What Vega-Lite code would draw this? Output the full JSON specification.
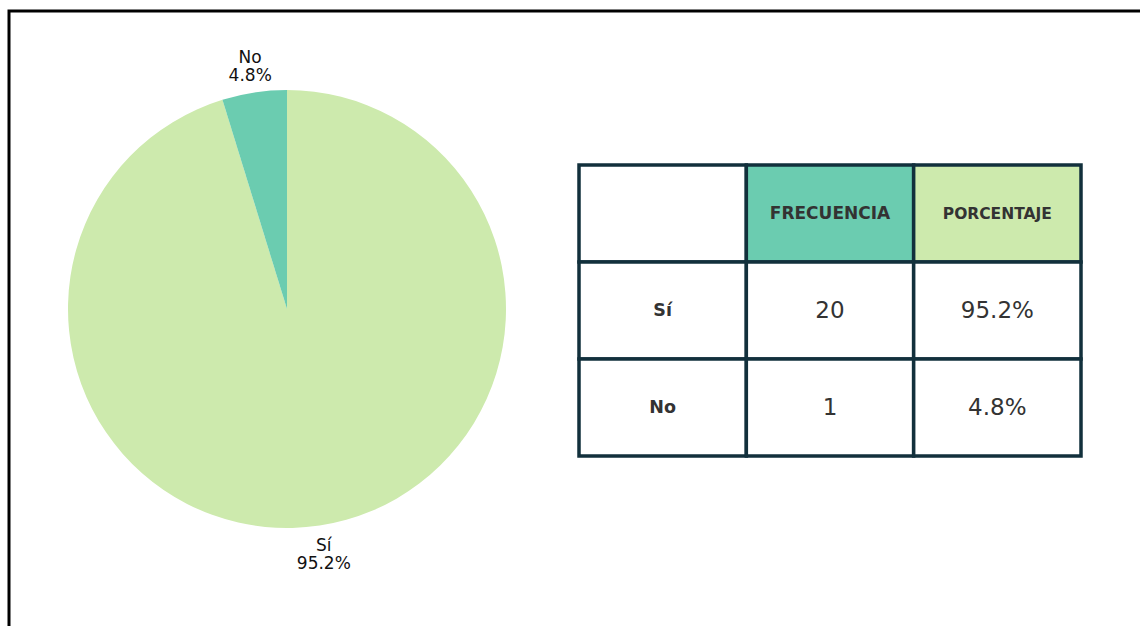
{
  "$schema": "https://vega.github.io/schema/vega-lite/v6.json",
  "width": 1131,
  "height": 615,
  "autosize": {"type": "none"},
  "padding": {"left": 9, "top": 11, "right": 0, "bottom": 0},
  "background": "white",
  "config": {
    "view": {"stroke": "black", "strokeWidth": 3, "strokeDash": [1131, 1746, 615]},
    "font": "DejaVu Sans"
  },
  "datasets": {
    "respuestas": [
      {"respuesta": "Sí", "frecuencia": 20, "porcentaje": "95.2%"},
      {"respuesta": "No", "frecuencia": 1, "porcentaje": "4.8%"}
    ],
    "tabla": [
      {"fila": "encabezado", "columna": "respuesta", "texto": ""},
      {"fila": "encabezado", "columna": "frecuencia", "texto": "FRECUENCIA"},
      {"fila": "encabezado", "columna": "porcentaje", "texto": "PORCENTAJE"},
      {"fila": "Sí", "columna": "respuesta", "texto": "Sí"},
      {"fila": "Sí", "columna": "frecuencia", "texto": "20"},
      {"fila": "Sí", "columna": "porcentaje", "texto": "95.2%"},
      {"fila": "No", "columna": "respuesta", "texto": "No"},
      {"fila": "No", "columna": "frecuencia", "texto": "1"},
      {"fila": "No", "columna": "porcentaje", "texto": "4.8%"}
    ]
  },
  "layer": [
    {
      "data": {"name": "respuestas"},
      "encoding": {
        "x": {"datum": "Encuesta", "type": "nominal", "scale": {"range": [0, 556]}, "axis": null},
        "y": {"datum": "Encuesta", "type": "nominal", "scale": {"range": [0, 596]}, "axis": null},
        "theta": {"field": "frecuencia", "type": "quantitative", "stack": true},
        "order": {"field": "frecuencia", "sort": "descending"},
        "color": {"field": "respuesta", "type": "nominal", "scale": {"domain": ["Sí", "No"], "range": ["#cdeaad", "#6bccb0"]}, "legend": null}
      },
      "layer": [
        {"mark": {"type": "arc", "outerRadius": 219}},
        {"mark": {"type": "text", "radius": 247, "dy": -7, "fontSize": 17}, "encoding": {"text": {"field": "respuesta"}, "color": {"value": "#111111"}}},
        {"mark": {"type": "text", "radius": 247, "dy": 11, "fontSize": 17}, "encoding": {"text": {"field": "porcentaje"}, "color": {"value": "#111111"}}}
      ]
    },
    {
      "data": {"name": "tabla"},
      "encoding": {
        "x": {"field": "columna", "type": "nominal", "scale": {"type": "band", "domain": ["respuesta", "frecuencia", "porcentaje"], "range": [570, 1072], "paddingInner": 0, "paddingOuter": 0}, "axis": null},
        "y": {"field": "fila", "type": "nominal", "scale": {"type": "band", "domain": ["encabezado", "Sí", "No"], "range": [154, 445], "paddingInner": 0, "paddingOuter": 0}, "axis": null}
      },
      "layer": [
        {
          "mark": {"type": "rect", "stroke": "#12303c", "strokeWidth": 3.5},
          "encoding": {
            "color": {
              "condition": {"test": "datum.fila !== 'encabezado'", "value": "white"},
              "field": "columna", "type": "nominal",
              "scale": {"domain": ["respuesta", "frecuencia", "porcentaje"], "range": ["white", "#6bccb0", "#cdeaad"]},
              "legend": null
            }
          }
        },
        {
          "transform": [{"filter": "datum.fila === 'encabezado'"}],
          "mark": {"type": "text", "fontWeight": "bold", "color": "#333333"},
          "encoding": {
            "text": {"field": "texto"},
            "size": {"condition": {"test": "datum.columna === 'porcentaje'", "value": 15.5}, "value": 17}
          }
        },
        {
          "transform": [{"filter": "datum.fila !== 'encabezado' && datum.columna === 'respuesta'"}],
          "mark": {"type": "text", "fontWeight": "bold", "fontSize": 17.5, "color": "#333333"},
          "encoding": {"text": {"field": "texto"}}
        },
        {
          "transform": [{"filter": "datum.fila !== 'encabezado' && datum.columna !== 'respuesta'"}],
          "mark": {"type": "text", "fontSize": 23, "color": "#333333"},
          "encoding": {"text": {"field": "texto"}}
        }
      ]
    }
  ],
  "resolve": {"scale": {"x": "independent", "y": "independent", "color": "independent"}}
}
